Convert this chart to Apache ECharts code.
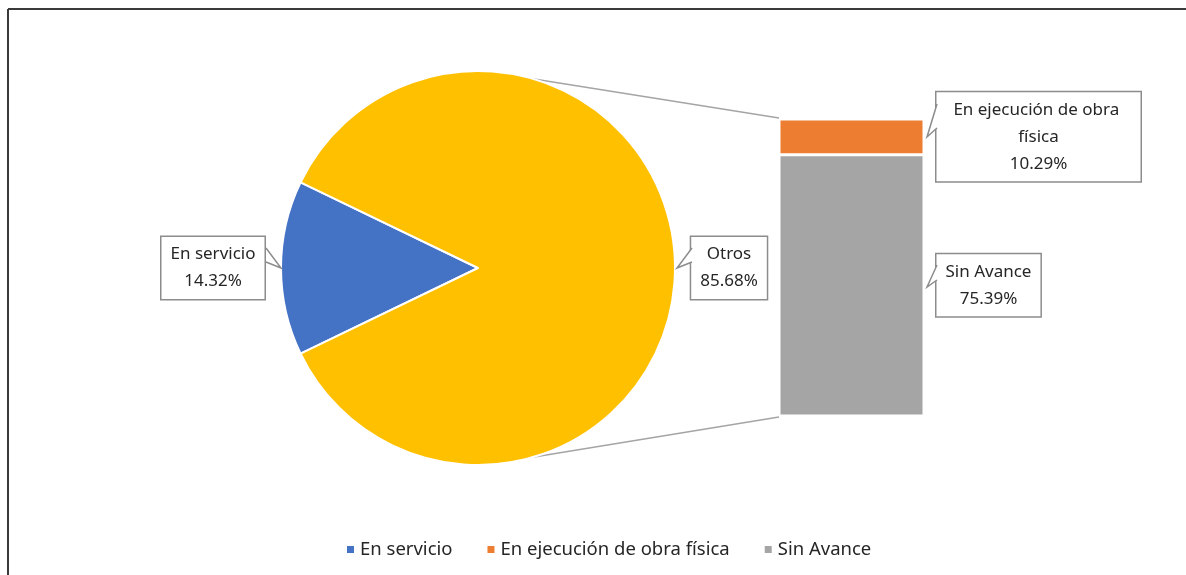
<!DOCTYPE html>
<html>
<head>
<meta charset="utf-8">
<script src="https://cdn.jsdelivr.net/npm/echarts@6/dist/echarts.min.js"></script>
<style>
  html, body { margin: 0; padding: 0; background: #fff; }
  #chart { width: 1186px; height: 575px; }
</style>
</head>
<body>
<div id="chart"></div>
<script>
// pie part
const pieNames = ['En servicio', 'Otros']
const pieValues = [14.32, 85.68]
// bar part (splits "Otros")
const barNames = ['En ejecución de obra física', 'Sin Avance']
const barValues = [10.29, 75.39]
const legendNames = ['En servicio', 'En ejecución de obra física', 'Sin Avance']

const colors = {
  'En servicio': '#4472C4',
  'Otros': '#FFC000',
  'En ejecución de obra física': '#ED7D31',
  'Sin Avance': '#A5A5A5'
}

const font = 'Noto Sans'
const pieCenter = [478, 268]
const pieRadius = 197
const pieTotal = pieValues.reduce((a, b) => a + b, 0)
const barTotal = barValues.reduce((a, b) => a + b, 0)
// first slice centred on the left side
const startAngle = 180 + pieValues[0] / pieTotal * 360 / 2

const calloutStyle = {
  color: '#262626',
  fontFamily: font,
  fontSize: 17,
  lineHeight: 27,
  backgroundColor: '#fff',
  borderColor: '#8c8c8c',
  borderWidth: 1.5,
  padding: [4, 9]
}

var chart = echarts.init(document.getElementById('chart'))

var barSeries = []
// bottom segment first
for (let i = barNames.length - 1; i >= 0; i--) {
  barSeries.push({
    name: barNames[i],
    type: 'bar',
    stack: 'otros',
    barWidth: '100%',
    data: [barValues[i]],
    itemStyle: { color: colors[barNames[i]], borderColor: '#fff', borderWidth: 1.5 },
    label: Object.assign({
      show: true,
      position: 'right',
      align: 'center',
      width: i === 0 ? 186 : null,
      overflow: 'break',
      formatter: p => p.seriesName + '\n' + p.value.toFixed(2) + '%'
    }, calloutStyle),
    labelLayout: function (params) {
      var r = params.rect
      return {
        x: r.x + r.width + 11 + params.labelRect.width / 2,
        y: r.y + r.height / 2,
        align: 'center',
        verticalAlign: 'middle'
      }
    }
  })
}

chart.setOption({
  animation: false,
  color: legendNames.map(n => colors[n]),
  legend: {
    data: legendNames,
    left: 340,
    top: 535,
    icon: 'rect',
    itemWidth: 9,
    itemHeight: 9,
    itemGap: 33,
    textStyle: { fontFamily: font, fontSize: 18.5, color: '#262626' }
  },
  grid: { left: 779, top: 119, width: 145, height: 297 },
  xAxis: { type: 'category', data: ['Otros'], show: false },
  yAxis: { type: 'value', min: 0, max: barTotal, show: false },
  series: [
    {
      type: 'pie',
      center: pieCenter,
      radius: pieRadius,
      startAngle: startAngle,
      clockwise: true,
      data: pieNames.map((n, i) => ({
        name: n,
        value: pieValues[i],
        itemStyle: { color: colors[n] }
      })),
      itemStyle: { borderColor: '#fff', borderWidth: 2 },
      label: Object.assign({
        show: true,
        position: 'outside',
        align: 'center',
        formatter: p => p.name + '\n' + p.value.toFixed(2) + '%'
      }, calloutStyle),
      labelLine: { show: false },
      labelLayout: function (params) {
        if (params.dataIndex === 0) {
          return { x: 213, y: 268, align: 'center', verticalAlign: 'middle' }
        }
        return { x: 729, y: 268, align: 'center', verticalAlign: 'middle' }
      }
    }
  ].concat(barSeries)
})

// small pointer on a callout box: edge points a, b and tip
function pointer(a, tip, b) {
  return [
    { type: 'polygon', z: 200, shape: { points: [a, tip, b] }, style: { fill: '#fff', stroke: null } },
    { type: 'polyline', z: 201, shape: { points: [a, tip, b] }, style: { stroke: '#8c8c8c', lineWidth: 1.5, fill: null } }
  ]
}

// border lines and connector lines between pie and bar
var rad = 73.5 * Math.PI / 180
var topPt = chart.convertToPixel({ gridIndex: 0 }, [0, barTotal])
var botPt = chart.convertToPixel({ gridIndex: 0 }, [0, 0])
var barLeft = 779
chart.setOption({
  graphic: [
    { type: 'line', shape: { x1: 8, y1: 9, x2: 1186, y2: 9 }, style: { stroke: '#3a3a3a', lineWidth: 2 } },
    { type: 'line', shape: { x1: 8, y1: 9, x2: 8, y2: 575 }, style: { stroke: '#3a3a3a', lineWidth: 2 } },
    {
      type: 'line',
      shape: {
        x1: pieCenter[0] + pieRadius * Math.cos(rad), y1: pieCenter[1] - pieRadius * Math.sin(rad),
        x2: barLeft, y2: topPt[1] - 1
      },
      style: { stroke: '#a5a5a5', lineWidth: 1.5 }
    },
    {
      type: 'line',
      shape: {
        x1: pieCenter[0] + pieRadius * Math.cos(rad), y1: pieCenter[1] + pieRadius * Math.sin(rad),
        x2: barLeft, y2: botPt[1] + 1
      },
      style: { stroke: '#a5a5a5', lineWidth: 1.5 }
    }
  ].concat(
    pointer([266, 248], [281, 268], [266, 262]),
    pointer([692, 248], [677, 268], [692, 262]),
    pointer([937, 104], [927, 137], [937, 128]),
    pointer([937, 265], [927, 287], [937, 280])
  )
})
</script>
</body>
</html>
